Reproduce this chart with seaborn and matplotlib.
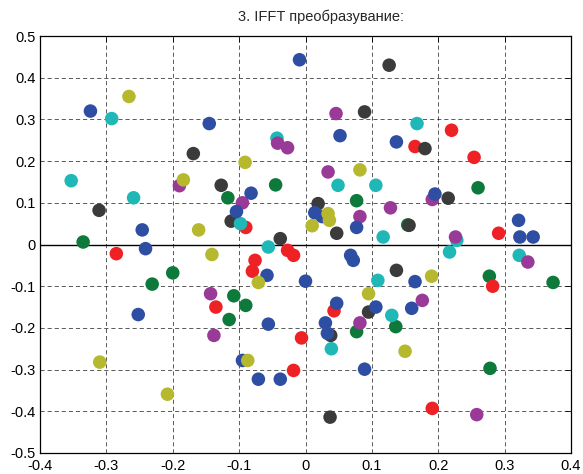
import numpy as np
import pandas as pd
import matplotlib
matplotlib.use("Agg")
import matplotlib.pyplot as plt
import seaborn as sns

title = "3. IFFT преобразувание:"
xticks = [-0.4, -0.3, -0.2, -0.1, 0, 0.1, 0.2, 0.3, 0.4]
yticks = [-0.5, -0.4, -0.3, -0.2, -0.1, 0, 0.1, 0.2, 0.3, 0.4, 0.5]

green_x = [-0.045, -0.117, -0.335, 0.260, 0.077, 0.154, -0.200, -0.231, -0.108, -0.090, -0.115, 0.277, 0.373, 0.077, 0.136, 0.278]
green_y = [0.143, 0.112, 0.006, 0.136, 0.105, 0.047, -0.068, -0.095, -0.123, -0.146, -0.180, -0.076, -0.091, -0.209, -0.197, -0.297]

red_x = [0.220, 0.165, 0.254, -0.090, 0.291, -0.285, -0.076, -0.080, -0.027, -0.018, -0.135, -0.006, -0.018, 0.282, 0.043, 0.191]
red_y = [0.274, 0.235, 0.209, 0.041, 0.027, -0.022, -0.038, -0.064, -0.014, -0.026, -0.150, -0.224, -0.302, -0.100, -0.159, -0.393]

black_x = [-0.169, -0.127, -0.311, -0.112, -0.038, 0.126, 0.089, 0.180, 0.215, 0.019, 0.047, 0.156, 0.137, 0.095, 0.038, 0.037]
black_y = [0.218, 0.142, 0.082, 0.056, 0.014, 0.430, 0.318, 0.230, 0.111, 0.098, 0.027, 0.046, -0.062, -0.162, -0.218, -0.414]

cyan_x = [-0.292, -0.043, -0.353, -0.259, -0.098, 0.168, 0.049, 0.106, 0.117, 0.228, -0.056, 0.217, 0.322, 0.109, 0.130, 0.039]
cyan_y = [0.302, 0.255, 0.153, 0.112, 0.050, 0.290, 0.142, 0.142, 0.018, 0.010, -0.006, -0.018, -0.026, -0.086, -0.170, -0.250]

magenta_x = [-0.042, -0.027, -0.190, -0.095, 0.046, 0.034, 0.191, 0.128, 0.082, 0.226, 0.335, -0.143, -0.138, 0.176, 0.082, 0.258]
magenta_y = [0.243, 0.232, 0.141, 0.100, 0.314, 0.174, 0.108, 0.088, 0.067, 0.018, -0.042, -0.118, -0.218, -0.134, -0.188, -0.408]

blue_x = [-0.009, -0.324, -0.145, -0.082, -0.104, -0.246, -0.241, 0.052, 0.137, 0.195, 0.014, 0.025, 0.077, 0.321, 0.323, 0.343,
          -0.058, 0.000, -0.252, -0.056, -0.095, -0.071, -0.038, 0.068, 0.072, 0.165, 0.047, 0.106, 0.160, 0.030, 0.033, 0.089]
blue_y = [0.443, 0.320, 0.290, 0.123, 0.079, 0.035, -0.010, 0.261, 0.246, 0.121, 0.076, 0.067, 0.041, 0.058, 0.018, 0.018,
          -0.074, -0.088, -0.168, -0.191, -0.278, -0.323, -0.323, -0.026, -0.038, -0.089, -0.141, -0.150, -0.153, -0.188, -0.213, -0.299]

yellow_x = [-0.266, -0.091, -0.184, -0.161, 0.082, 0.034, 0.036, 0.010, -0.141, -0.071, -0.310, -0.087, -0.208, 0.190, 0.095, 0.150]
yellow_y = [0.355, 0.197, 0.155, 0.035, 0.179, 0.074, 0.058, 0.045, -0.024, -0.091, -0.282, -0.278, -0.359, -0.076, -0.118, -0.256]

groups = [
    ("green", green_x, green_y),
    ("red", red_x, red_y),
    ("black", black_x, black_y),
    ("cyan", cyan_x, cyan_y),
    ("magenta", magenta_x, magenta_y),
    ("blue", blue_x, blue_y),
    ("yellow", yellow_x, yellow_y),
]
palette = {
    "green": "#0d7a3b",
    "red": "#ee2124",
    "black": "#3b3b3b",
    "cyan": "#1fb8b7",
    "magenta": "#993a98",
    "blue": "#2d4ea2",
    "yellow": "#b6b82d",
}

df = pd.concat(
    [pd.DataFrame({"x": gx, "y": gy, "c": name}) for name, gx, gy in groups],
    ignore_index=True,
)

sns.set_style("white")
plt.rcParams["font.family"] = ["Liberation Sans", "DejaVu Sans"]

fig = plt.figure(figsize=(5.83, 4.74), dpi=100)
ax = fig.add_axes([40 / 583, 1 - 453 / 474, 531 / 583, 417 / 474])

ax.axhline(0, color="black", lw=1.0, zorder=1)
sns.scatterplot(data=df, x="x", y="y", hue="c", palette=palette, s=95,
                linewidth=0, edgecolor="none", legend=False, ax=ax, zorder=3)

ax.set_xlim(-0.4, 0.4)
ax.set_ylim(-0.5, 0.5)
ax.set_xticks(xticks)
ax.set_yticks(yticks)
ax.set_xticklabels([f"{t:g}" for t in xticks])
ax.set_yticklabels([f"{t:g}" for t in yticks])
ax.set_xlabel("")
ax.set_ylabel("")
ax.grid(True, color="black", linestyle=(0, (5, 3.5)), linewidth=0.6, alpha=0.75, zorder=0)
ax.set_axisbelow(True)
ax.tick_params(direction="in", length=4, width=0.6, labelsize=10.5,
               top=True, right=True, colors="black")
ax.tick_params(axis="x", pad=4)
ax.tick_params(axis="y", pad=3)
for sp in ax.spines.values():
    sp.set_color("black")
    sp.set_linewidth(0.9)
ax.set_title(title, fontsize=10.5, pad=11, x=(321 - 40) / 531)

fig.savefig("out.png", dpi=100)
